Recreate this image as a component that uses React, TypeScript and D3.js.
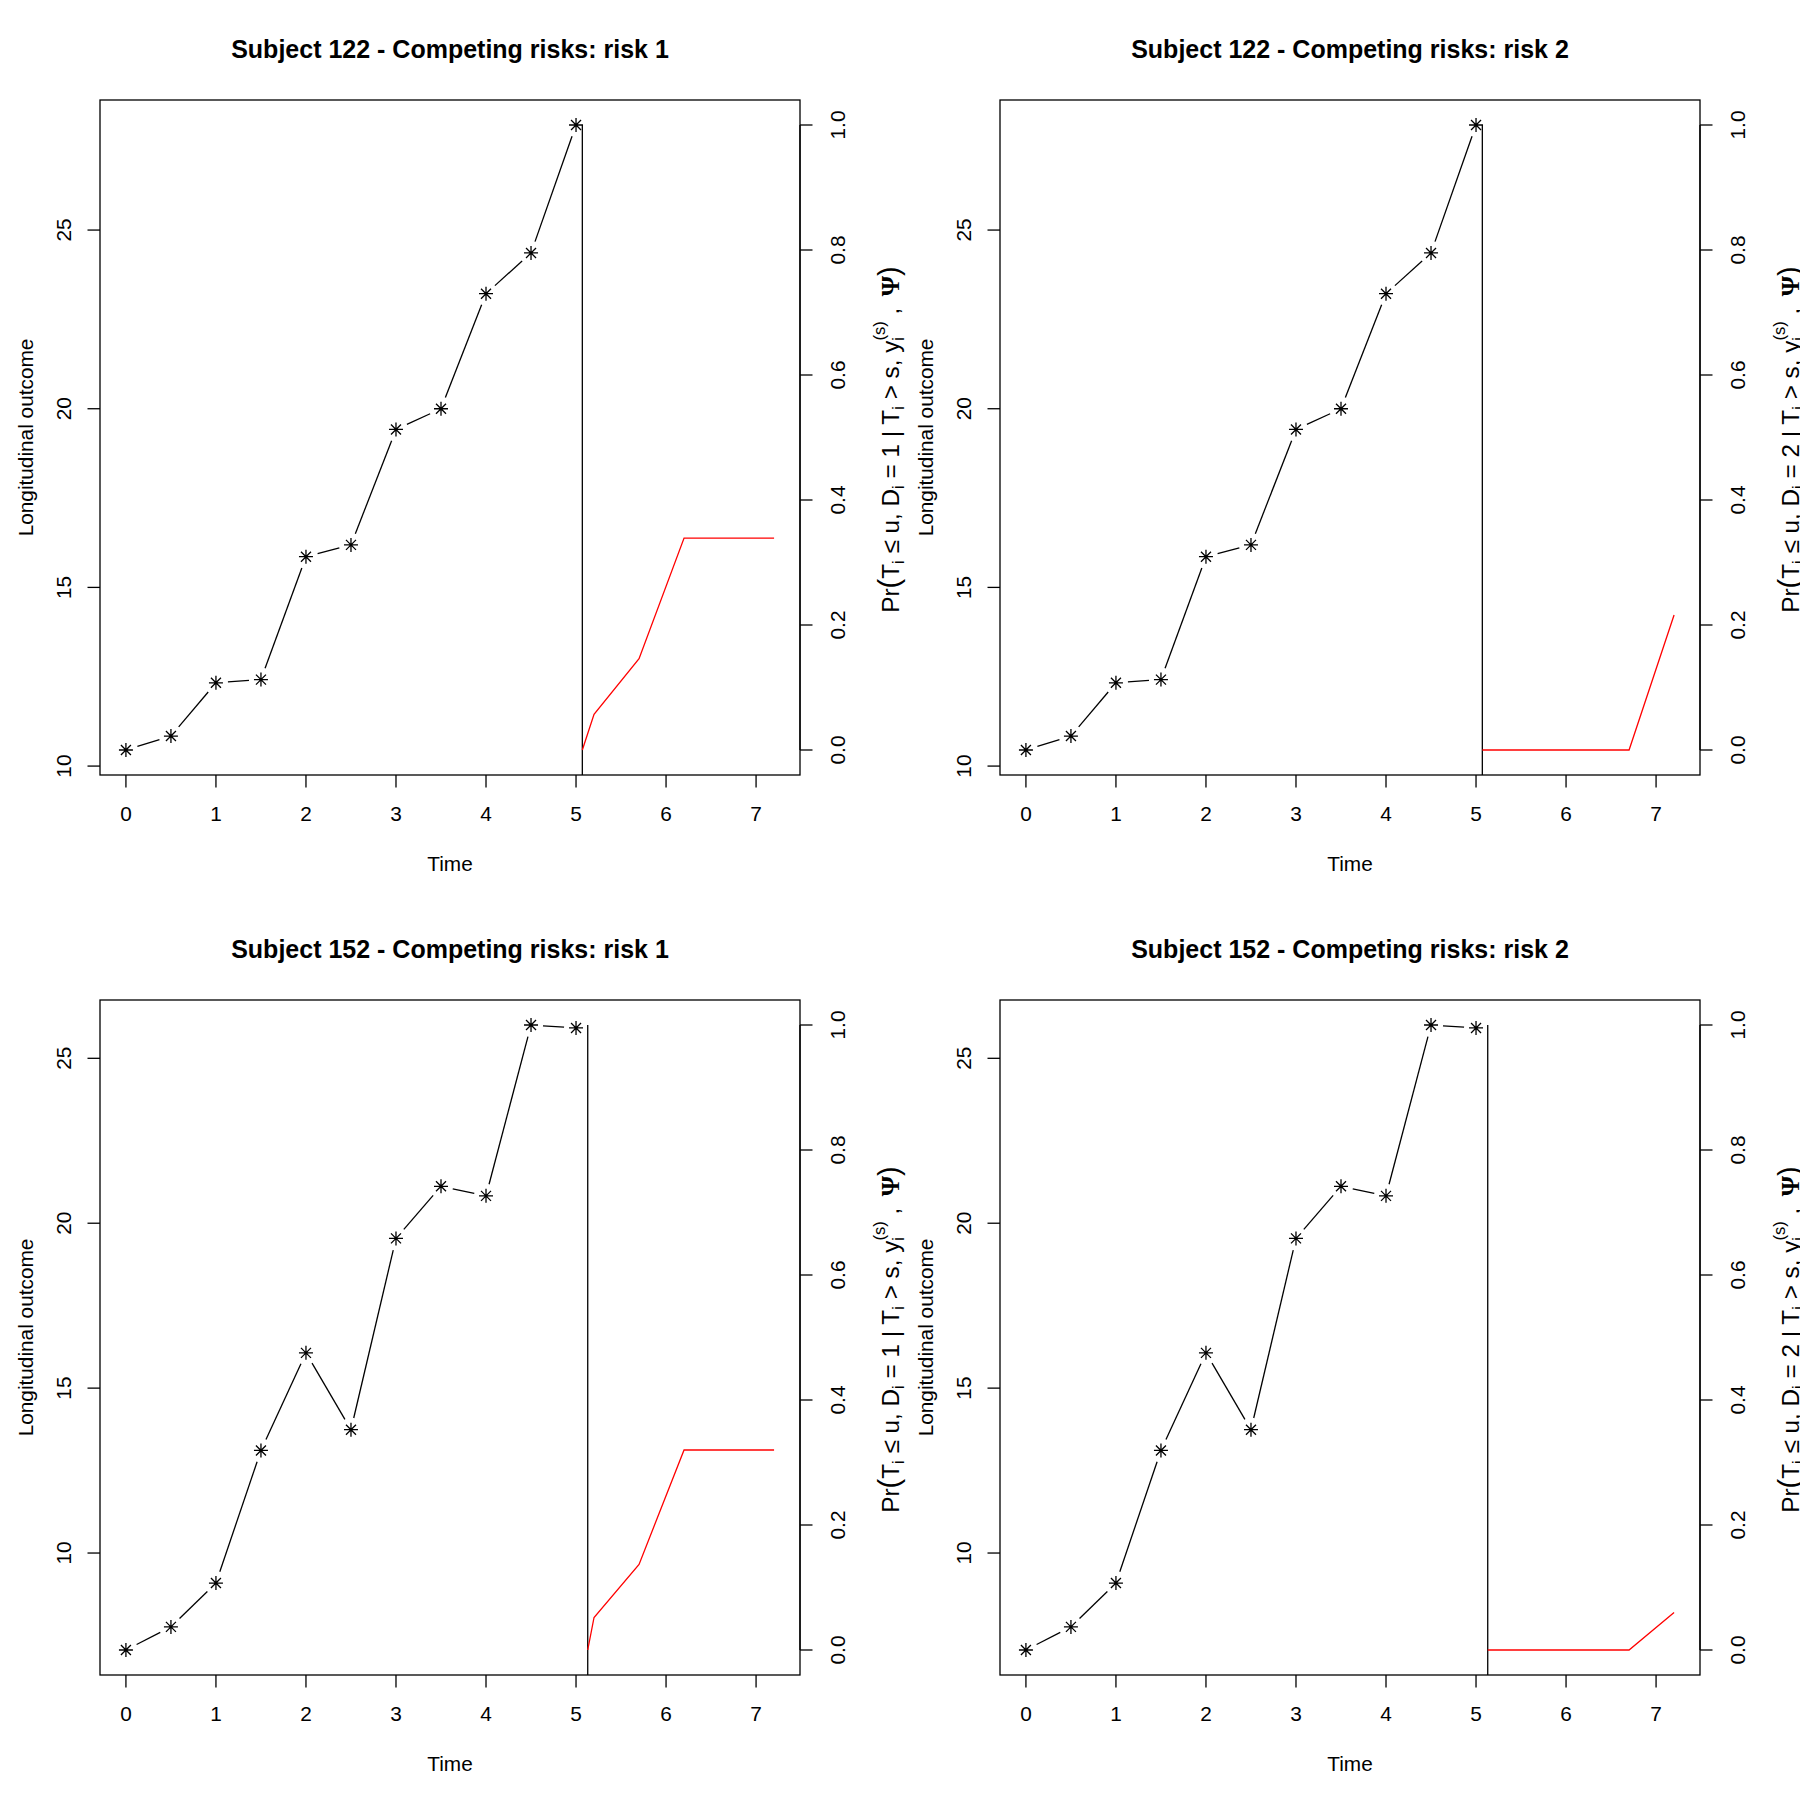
import * as d3 from "d3";

// Tiempos de medición del marcador longitudinal
const tiempos = [0, 0.5, 1, 1.5, 2, 2.5, 3, 3.5, 4, 4.5, 5];
const outcome122 = [10.45, 10.84, 12.33, 12.42, 15.86, 16.19, 19.42, 20.0, 23.22, 24.36, 27.94];
const outcome152 = [7.06, 7.76, 9.09, 13.11, 16.07, 13.74, 19.54, 21.12, 20.83, 26.01, 25.92];

// Último tiempo observado (línea vertical)
const lastTime122 = 5.07;
const lastTime152 = 5.13;

// Predicción de incidencia acumulada por riesgo
const predTimes122 = [5.07, 5.2, 5.7, 6.2, 6.7, 7.2];
const predTimes152 = [5.13, 5.2, 5.7, 6.2, 6.7, 7.2];
const cif122Risk1 = [0, 0.057, 0.146, 0.339, 0.339, 0.339];
const cif122Risk2 = [0, 0, 0, 0, 0, 0.216];
const cif152Risk1 = [0, 0.052, 0.137, 0.32, 0.32, 0.32];
const cif152Risk2 = [0, 0, 0, 0, 0, 0.06];

const xTicks = [0, 1, 2, 3, 4, 5, 6, 7];
const yTicks = [10, 15, 20, 25];
const probTicks = [0, 0.2, 0.4, 0.6, 0.8, 1];

const FUENTE = "'Liberation Sans', Arial, Helvetica, sans-serif";
const PANEL = 900;
const L = 100, R = 800, T = 100, B = 775;
const LW = 1.3;
const GAP = 12;

// igual que R: 4% extra a cada lado
function expandir([lo, hi]: [number, number]): [number, number] {
  const d = hi - lo;
  return [lo - 0.04 * d, hi + 0.04 * d];
}

function asterisco(cx: number, cy: number) {
  const a = 7, b = 5;
  return `M${cx - a},${cy}H${cx + a}M${cx},${cy - a}V${cy + a}M${cx - b},${cy - b}L${cx + b},${cy + b}M${cx - b},${cy + b}L${cx + b},${cy - b}`;
}

function EtiquetaPr({ riesgo }: { riesgo: number }) {
  const sub = 5, sup = 14;
  const chico = 16.5;
  const th = "\u2009";
  return (
    <text fontSize={24.3} textAnchor="middle" fontFamily={FUENTE}>
      Pr
      <tspan fontSize={29}>(</tspan>
      <tspan>T</tspan>
      <tspan dy={sub} fontSize={chico}>i</tspan>
      <tspan dy={-sub}>{" \u2264 u,  D"}</tspan>
      <tspan dy={sub} fontSize={chico}>i</tspan>
      <tspan dy={-sub}>{` = ${riesgo} | T`}</tspan>
      <tspan dy={sub} fontSize={chico}>i</tspan>
      <tspan dy={-sub}>{" > s,  y"}</tspan>
      <tspan dy={sub} fontSize={chico}>i</tspan>
      <tspan dx={-3.6} dy={-sub - sup} fontSize={chico}>(s)</tspan>
      <tspan dy={sup}>{` ,${th} `}</tspan>
      <tspan fontFamily="'Liberation Serif', 'DejaVu Serif', serif" fontWeight="bold" fontSize={26}>
        {"\u03A8"}
      </tspan>
      <tspan fontSize={29}>)</tspan>
    </text>
  );
}

function Panel({
  ox,
  oy,
  subject,
  riesgo,
  outcome,
  lastTime,
  predTimes,
  cif,
}: {
  ox: number;
  oy: number;
  subject: number;
  riesgo: number;
  outcome: number[];
  lastTime: number;
  predTimes: number[];
  cif: number[];
}) {
  const x = d3
    .scaleLinear()
    .domain(expandir([0, d3.max(predTimes) as number]))
    .range([L, R]);
  const y = d3
    .scaleLinear()
    .domain(expandir(d3.extent(outcome) as [number, number]))
    .range([B, T]);
  const yP = d3.scaleLinear().domain(expandir([0, 1])).range([B, T]);

  const puntos = tiempos.map((t, i) => [x(t), y(outcome[i])] as [number, number]);

  // type = "b": segmentos con hueco alrededor de cada punto
  const segmentos = puntos.slice(1).map((p, i) => {
    const q = puntos[i];
    const dx = p[0] - q[0], dy = p[1] - q[1];
    const len = Math.hypot(dx, dy);
    if (len <= 2 * GAP) return null;
    const ux = dx / len, uy = dy / len;
    return (
      <line
        key={i}
        x1={q[0] + ux * GAP}
        y1={q[1] + uy * GAP}
        x2={p[0] - ux * GAP}
        y2={p[1] - uy * GAP}
        stroke="#000"
        strokeWidth={LW}
      />
    );
  });

  const lineaRoja = d3
    .line<number>()
    .x((_, i) => x(predTimes[i]))
    .y((d) => yP(d));

  const cy = (T + B) / 2;

  return (
    <g transform={`translate(${ox},${oy})`} fontFamily={FUENTE}>
      <text x={(L + R) / 2} y={58} textAnchor="middle" fontSize={25} fontWeight="bold">
        {`Subject ${subject} - Competing risks: risk ${riesgo}`}
      </text>

      {segmentos}
      {puntos.map((p, i) => (
        <path key={i} d={asterisco(p[0], p[1])} stroke="#000" strokeWidth={LW} fill="none" />
      ))}

      <line x1={x(lastTime)} x2={x(lastTime)} y1={yP(1)} y2={B} stroke="#000" strokeWidth={LW} />
      <path d={lineaRoja(cif) || ""} fill="none" stroke="#FF0000" strokeWidth={LW} />

      <rect x={L} y={T} width={R - L} height={B - T} fill="none" stroke="#000" strokeWidth={LW} />

      {/* eje x */}
      {xTicks.map((t) => (
        <g key={t}>
          <line x1={x(t)} x2={x(t)} y1={B} y2={B + 12.5} stroke="#000" strokeWidth={LW} />
          <text x={x(t)} y={821} textAnchor="middle" fontSize={20.8}>
            {t}
          </text>
        </g>
      ))}
      <text x={(L + R) / 2} y={871} textAnchor="middle" fontSize={20.8}>
        Time
      </text>

      {/* eje y izquierdo */}
      {yTicks.map((v) => (
        <g key={v}>
          <line x1={L - 12.5} x2={L} y1={y(v)} y2={y(v)} stroke="#000" strokeWidth={LW} />
          <text transform={`translate(70.7,${y(v)}) rotate(-90)`} textAnchor="middle" fontSize={20.8}>
            {v}
          </text>
        </g>
      ))}
      <text transform={`translate(32.7,${cy}) rotate(-90)`} textAnchor="middle" fontSize={20.8}>
        Longitudinal outcome
      </text>

      {/* eje derecho de probabilidad */}
      <line x1={R} x2={R} y1={yP(0)} y2={yP(1)} stroke="#000" strokeWidth={LW} />
      {probTicks.map((v) => (
        <g key={v}>
          <line x1={R} x2={R + 12.5} y1={yP(v)} y2={yP(v)} stroke="#000" strokeWidth={LW} />
          <text transform={`translate(845,${yP(v)}) rotate(-90)`} textAnchor="middle" fontSize={20.8}>
            {v.toFixed(1)}
          </text>
        </g>
      ))}
      <g transform={`translate(899,${cy + 2}) rotate(-90)`}>
        <EtiquetaPr riesgo={riesgo} />
      </g>
    </g>
  );
}

const paneles = [
  { subject: 122, riesgo: 1, outcome: outcome122, lastTime: lastTime122, predTimes: predTimes122, cif: cif122Risk1 },
  { subject: 122, riesgo: 2, outcome: outcome122, lastTime: lastTime122, predTimes: predTimes122, cif: cif122Risk2 },
  { subject: 152, riesgo: 1, outcome: outcome152, lastTime: lastTime152, predTimes: predTimes152, cif: cif152Risk1 },
  { subject: 152, riesgo: 2, outcome: outcome152, lastTime: lastTime152, predTimes: predTimes152, cif: cif152Risk2 },
];

export default function App() {
  return (
    <svg
      width={1800}
      height={1800}
      viewBox="0 0 1800 1800"
      style={{ position: "absolute", left: 0, top: 0, background: "#fff" }}
    >
      <rect width={1800} height={1800} fill="#fff" />
      {paneles.map((p, i) => (
        <Panel key={i} ox={(i % 2) * PANEL} oy={Math.floor(i / 2) * PANEL} {...p} />
      ))}
    </svg>
  );
}
